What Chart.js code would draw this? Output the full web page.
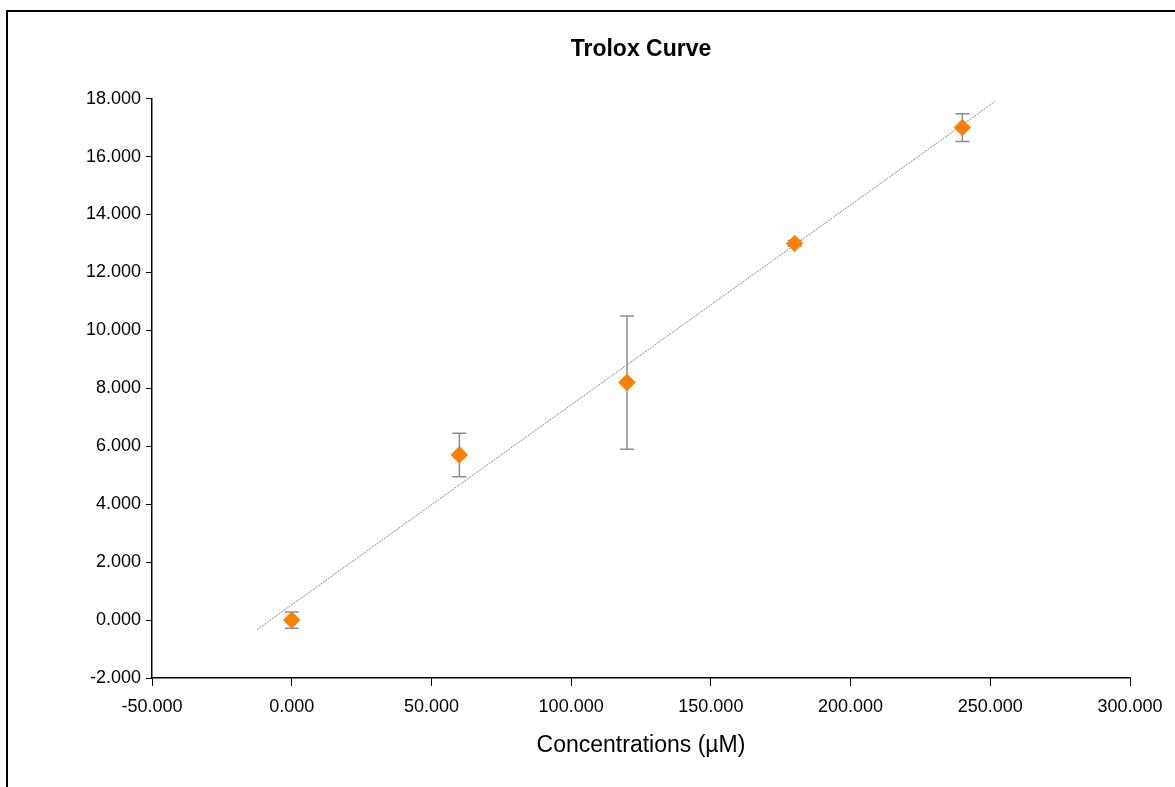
<!DOCTYPE html>
<html>
<head>
<meta charset="utf-8">
<script src="https://cdn.jsdelivr.net/npm/chart.js@4"></script>
<style>
    html, body { margin: 0; padding: 0; background: #fff; overflow: hidden; }
    #wrap { position: relative; width: 1175px; height: 787px; }
    #frame { position: absolute; left: 6px; top: 10px; width: 1200px; height: 800px; border: 2px solid #000; pointer-events: none; }
    canvas { position: absolute; left: 0; top: 0; }
</style>
</head>
<body>
<div id="wrap">
    <canvas id="chart" width="1175" height="787"></canvas>
    <div id="frame"></div>
</div>
<script>
// concentrations (µM) and absorbance-based response
const concentrations = [0, 60, 120, 180, 240];
const responses = [0.0, 5.7, 8.2, 13.0, 17.0];
const errors = [0.28, 0.75, 2.3, 0.1, 0.48];

// linear trendline ends as drawn in the reference
const trendX = [-12.4, 251.7];
const trendY = [-0.33, 17.9];

const xTicks = [-50, 0, 50, 100, 150, 200, 250, 300];
const yTicks = [-2, 0, 2, 4, 6, 8, 10, 12, 14, 16, 18];

const FONT = 'Arial, "Liberation Sans", sans-serif';

// simple error bar plugin, uses the chart scales for positions
const errorBars = {
    id: 'errorBars',
    afterDatasetsDraw(chart) {
        const ctx = chart.ctx;
        const xs = chart.scales.x;
        const ys = chart.scales.y;
        ctx.save();
        ctx.strokeStyle = '#8c8c8c';
        ctx.lineWidth = 1.5;
        concentrations.forEach((c, i) => {
            const px = xs.getPixelForValue(c);
            const top = ys.getPixelForValue(responses[i] + errors[i]);
            const bot = ys.getPixelForValue(responses[i] - errors[i]);
            ctx.beginPath();
            ctx.moveTo(px, top); ctx.lineTo(px, bot);
            ctx.moveTo(px - 7, top); ctx.lineTo(px + 7, top);
            ctx.moveTo(px - 7, bot); ctx.lineTo(px + 7, bot);
            ctx.stroke();
        });
        ctx.restore();
        // redraw the markers over the bars
        chart.getDatasetMeta(1).controller.draw();
    }
};

new Chart(document.getElementById('chart'), {
    type: 'scatter',
    data: {
        datasets: [
            {
                type: 'line',
                label: 'Linear',
                data: trendX.map((x, i) => ({ x: x, y: trendY[i] })),
                borderColor: '#8a8a8a',
                borderWidth: 1,
                borderDash: [2, 1],
                pointRadius: 0,
                fill: false
            },
            {
                label: 'Trolox',
                data: concentrations.map((x, i) => ({ x: x, y: responses[i] })),
                pointStyle: 'rectRot',
                pointRadius: 8,
                pointBackgroundColor: '#ff8000',
                pointBorderColor: '#ff8000',
                pointBorderWidth: 1
            }
        ]
    },
    options: {
        responsive: false,
        animation: false,
        layout: { padding: { left: 0, right: 45, top: 0, bottom: 0 } },
        plugins: {
            legend: { display: false },
            tooltip: { enabled: false },
            title: {
                display: true,
                fullSize: false,
                text: 'Trolox Curve',
                color: '#000',
                font: { family: FONT, size: 23, weight: 'bold' },
                padding: { top: 36, bottom: 35 }
            }
        },
        scales: {
            x: {
                type: 'linear',
                min: -50,
                max: 300,
                afterBuildTicks: (scale) => { scale.ticks = xTicks.map(v => ({ value: v })); },
                afterFit: (scale) => { scale.height = 109; },
                border: { display: true, color: '#000', width: 1.5 },
                grid: { drawOnChartArea: false, drawTicks: true, tickLength: 8, color: '#000' },
                ticks: {
                    color: '#000',
                    padding: 10,
                    maxRotation: 0,
                    font: { family: FONT, size: 18 },
                    callback: (v) => Number(v).toFixed(3)
                },
                title: {
                    display: true,
                    text: 'Concentrations (µM)',
                    color: '#000',
                    font: { family: FONT, size: 23 },
                    padding: { top: 0, bottom: 28 }
                }
            },
            y: {
                type: 'linear',
                min: -2,
                max: 18,
                afterBuildTicks: (scale) => { scale.ticks = yTicks.map(v => ({ value: v })); },
                afterFit: (scale) => { scale.width = 152; },
                border: { display: true, color: '#000', width: 1.5 },
                grid: { drawOnChartArea: false, drawTicks: true, tickLength: 6, color: '#000' },
                ticks: {
                    color: '#000',
                    padding: 5,
                    font: { family: FONT, size: 18 },
                    callback: (v) => Number(v).toFixed(3)
                }
            }
        }
    },
    plugins: [errorBars]
});
</script>
</body>
</html>
